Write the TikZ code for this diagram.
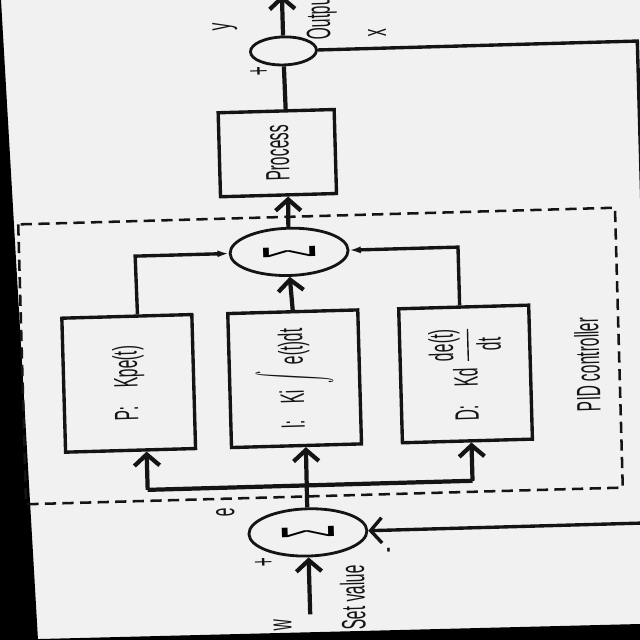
\documentclass[tikz,border=0pt]{standalone}
\usepackage{graphicx}
\usepackage{amsmath}
\usepackage{fontspec}
\newfontfamily\narrow[FakeStretch=0.46]{Liberation Sans}
\newfontfamily\plainsans{Liberation Sans}
\usetikzlibrary{arrows.meta,positioning,shapes.geometric,calc}
\definecolor{paper}{RGB}{241,241,241}
\colorlet{ink}{black!92}
\def\sumsign{\rotatebox{90}{\resizebox{0.3cm}{1.3cm}{\plainsans Σ}}}
\def\bigint{\scalebox{0.4}[1]{$\displaystyle\int$}}
\tikzset{lbl/.style={font=\narrow\fontsize{24}{28}\selectfont, inner sep=0pt, text=ink},
	block/.style={lbl, draw=ink, line width=2.4pt, minimum width=3.25cm, minimum height=3.35cm},
	junction/.style={ellipse, draw=ink, line width=2pt, minimum width=2.95cm, minimum height=1.18cm, inner sep=0pt},
	signal/.style={draw=ink, line width=3pt},
	branch/.style={draw=ink, line width=2.4pt},
	barb/.style={-{Straight Barb[length=8pt,width=18pt]}},
	fill tip/.style={-{Latex[length=8pt,width=5pt]}}}

\begin{document}
\begin{tikzpicture}[x=0.025cm, y=-0.025cm]
	\fill[paper] (0,0) rectangle (640,640);
	\useasboundingbox (0,0) rectangle (640,640);
	\fill[black] (0,0) -- (1,0) -- (38,640) -- (0,640) -- cycle;
	\fill[black] (0,640) -- (640,624) -- (640,640) -- cycle;
	\begin{scope}[rotate around={1.6:(320,320)}, transform shape]
		\draw[ink, line width=1.8pt, dash pattern=on 8pt off 4.5pt] (21,216) rectangle (618,496);
		\node[junction, minimum width=1.65cm, minimum height=0.7cm] (out) at (291,50) {};
		\node[block, minimum width=2.9cm, minimum height=2.1cm] (process) at (282,152) {\rotatebox{90}{Process}};
		\node[junction] (sumup) at (291,251) {\sumsign};
		\node[block] (pbox) at (127,378) {\rotatebox{90}{P:\hspace{0.45cm}Kpe(t)}};
		\node[block] (ibox) at (293,378) {\rotatebox{90}{I:\hspace{0.42cm}Ki\,\bigint\,e(t)dt}};
		\node[block] (dbox) at (464,378) {\rotatebox{90}{D:\hspace{0.45cm}Kd\,$\displaystyle\frac{\hbox{de(t)}}{\hbox{dt}}$}};
		\node[junction] (sumdown) at (302,532) {\sumsign};

		\coordinate (top) at (291,-6);
		\coordinate (pturn) at (137,251);
		\coordinate (dturn) at (460,251);
		\coordinate (pin) at (143,485);
		\coordinate (din) at (468,485);
		\coordinate (w) at (302,614);
		\coordinate (fbtop) at (645,50);
		\coordinate (fbbot) at (645,532);

		\draw[signal, barb] (out.north) -- (top);
		\draw[signal] ($(process.north west)!0.58!(process.north east)$) -- (out.south);
		\draw[signal, barb] (sumup.north) -- ($(process.south west)!0.58!(process.south east)$);
		\draw[branch, fill tip] ($(pbox.north west)!0.58!(pbox.north east)$) -- (pturn) -- (sumup.west);
		\draw[branch, fill tip] ($(dbox.north west)!0.47!(dbox.north east)$) -- (dturn) -- (sumup.east);
		\draw[signal, barb] (ibox.north) -- (sumup.south);
		\draw[signal] (pin) -- (din);
		\draw[signal, barb] (pin) -- ($(pbox.south west)!0.62!(pbox.south east)$);
		\draw[signal, barb] (din) -- ($(dbox.south west)!0.53!(dbox.south east)$);
		\draw[signal, barb] (sumdown.north) -- ($(ibox.south west)!0.57!(ibox.south east)$);
		\draw[signal, barb] (w) -- (sumdown.south);
		\draw[branch, barb] (out.east) -- (fbtop) -- (fbbot) -- (sumdown.east);

		\node[lbl, rotate=90] (ylbl) at (233,24) {y};
		\node[lbl, rotate=90, anchor=west] (outlbl) at (330,40) {Output};
		\node[lbl, rotate=90] (plusout) at (267,70) {+};
		\node[lbl, rotate=90] (xlbl) at (385,35) {x};
		\node[lbl, rotate=90] (pidlbl) at (586,372) {PID controller};
		\node[lbl, rotate=90] (elbl) at (220,510) {e};
		\node[lbl, rotate=90] (plusin) at (258,561) {+};
		\node[lbl, rotate=90] (minusin) at (386,552) {-};
		\node[lbl, rotate=90] (wlbl) at (274,624) {w};
		\node[lbl, rotate=90, anchor=west] (setlbl) at (345,631) {Set value};
	\end{scope}
\end{tikzpicture}
\end{document}
